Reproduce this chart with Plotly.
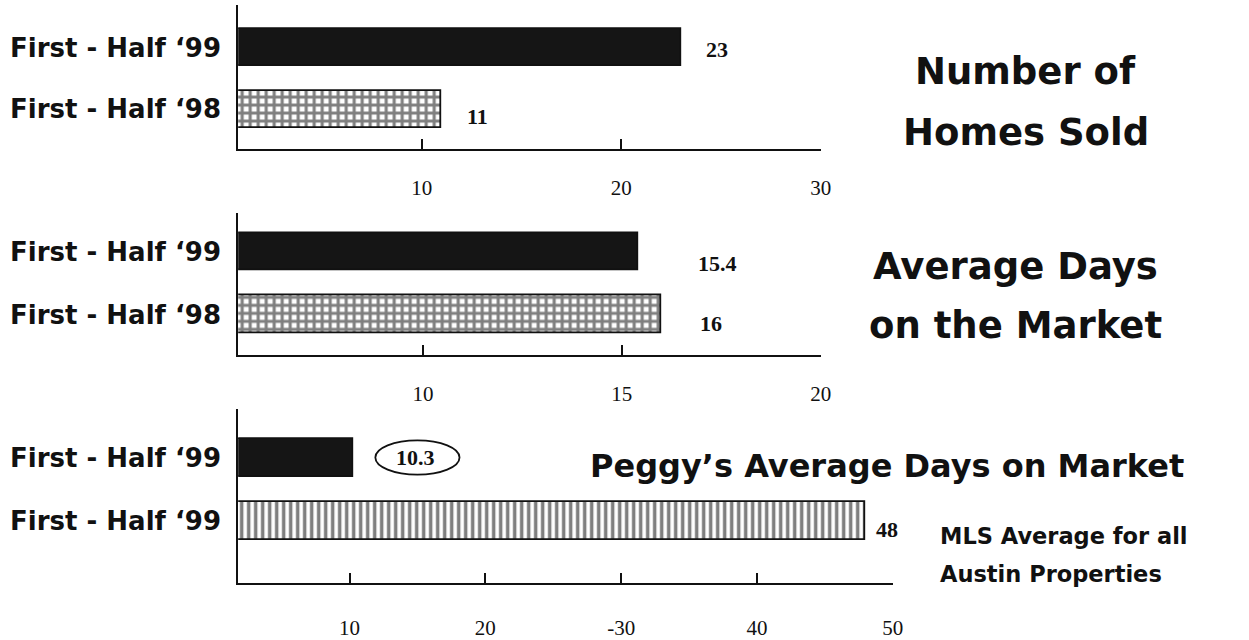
import plotly.graph_objects as go

# ---- data ----
cats_sold = ["First - Half \u201899", "First - Half \u201898"]
homes_sold = [23, 11]
sold_ticks = [10, 20, 30]

cats_days = ["First - Half \u201899", "First - Half \u201898"]
avg_days = [15.4, 16]
days_ticks = [10, 15, 20]

cats_peggy = ["First - Half \u201899", "First - Half \u201899"]
peggy_days = [10.3, 48]
peggy_ticks = [10, 20, 30, 40, 50]
peggy_tick_text = ["10", "20", "-30", "40", "50"]

value_text_sold = ["23", "11"]
value_text_days = ["15.4", "16"]
value_text_peggy = ["10.3", "48"]

# ---- style ----
LABEL_FONT = dict(family="DejaVu Sans", size=26, color="#111")
TICK_FONT = dict(family="Liberation Serif", size=21, color="#111")
VAL_FONT = dict(family="Liberation Serif", size=22, color="#111")
TITLE_FONT = "DejaVu Sans"
W = 1237.0  # effective horizontal pixel span used for paper placement

fig = go.Figure()

def add_panel(idx, cats, vals, patterns):
    ys = list(range(len(cats) - 1, -1, -1))
    for y, v, p in zip(ys, vals, patterns):
        marker = dict(color="#151515" if p is None else "white",
                      line=dict(color="#111", width=1.8))
        if p is not None:
            marker["pattern"] = dict(shape=p[0], size=p[1], solidity=p[2],
                                     fgcolor="#000", bgcolor="white")
        fig.add_trace(go.Bar(
            x=[v], y=[y], orientation="h", width=0.6, marker=marker,
            xaxis="x" + ("" if idx == 1 else str(idx)),
            yaxis="y" + ("" if idx == 1 else str(idx)),
            showlegend=False, hoverinfo="skip"))
    return ys

ys1 = add_panel(1, cats_sold, homes_sold, [None, ("+", 8, 0.62)])
ys2 = add_panel(2, cats_days, avg_days, [None, ("+", 8, 0.62)])
ys3 = add_panel(3, cats_peggy, peggy_days, [None, ("|", 7, 0.5)])

xcommon = dict(showline=True, linecolor="#111", linewidth=2, ticks="inside",
               ticklen=10, tickwidth=2, tickcolor="#111", showgrid=False,
               zeroline=False, tickfont=TICK_FONT, fixedrange=True)
ycommon = dict(showline=True, linecolor="#111", linewidth=2, ticks="",
               showgrid=False, zeroline=False, tickfont=LABEL_FONT,
               ticklabelstandoff=10, fixedrange=True)

def bold(lst):
    return ["<b>%s</b>" % s for s in lst]

d12 = [238 / W, 820 / W]
d3 = [238 / W, 892 / W]

fig.update_layout(
    width=1249, height=640, margin=dict(l=0, r=0, t=0, b=0),
    paper_bgcolor="white", plot_bgcolor="white", bargap=0,
    xaxis=dict(domain=d12, range=[0.8, 30], tickvals=sold_ticks,
               anchor="y", ticklabelstandoff=19, **xcommon),
    yaxis=dict(domain=[0.7656, 0.992], range=[-0.646, 1.696], tickvals=ys1,
               ticktext=bold(cats_sold), anchor="x", **ycommon),
    xaxis2=dict(domain=d12, range=[5.35, 20], tickvals=days_ticks,
                anchor="y2", ticklabelstandoff=19, **xcommon),
    yaxis2=dict(domain=[0.4406, 0.664], range=[-0.652, 1.62], tickvals=ys2,
                ticktext=bold(cats_days), anchor="x2", **ycommon),
    xaxis3=dict(domain=d3, range=[1.8, 50], tickvals=peggy_ticks,
                ticktext=peggy_tick_text, anchor="y3", ticklabelstandoff=24,
                **xcommon),
    yaxis3=dict(domain=[0.0813, 0.356], range=[-0.984, 1.766], tickvals=ys3,
                ticktext=bold(cats_peggy), anchor="x3", **ycommon),
)

ann = []
def vlabels(xref, yref, ys, vals, texts, shifts):
    for y, v, t, (dx, dy) in zip(ys, vals, texts, shifts):
        ann.append(dict(x=v, y=y, xref=xref, yref=yref, text="<b>%s</b>" % t,
                        showarrow=False, xanchor="left", xshift=dx, yshift=dy,
                        font=VAL_FONT))

vlabels("x", "y", ys1, homes_sold, value_text_sold, [(23, -2), (23, -7)])
vlabels("x2", "y2", ys2, avg_days, value_text_days, [(58, -11), (36, -9)])
vlabels("x3", "y3", ys3, peggy_days, value_text_peggy, [(40, 0), (8, -9)])

# ellipse around Peggy's value
fig.add_shape(type="circle", xref="x3", yref="y3",
              x0=peggy_days[0] + 1.6, x1=peggy_days[0] + 7.8,
              y0=ys3[0] - 0.27, y1=ys3[0] + 0.27,
              line=dict(color="#111", width=1.8))

def title(text, px, y, size, xanchor="center"):
    ann.append(dict(x=px / W, y=y, xref="paper", yref="paper", text="<b>%s</b>" % text,
                    showarrow=False, xanchor=xanchor, yanchor="middle",
                    font=dict(family=TITLE_FONT, size=size, color="#111")))

title("Number of", 1025, 0.8875, 37)
title("Homes Sold", 1025, 0.792, 37)
title("Average Days", 1015, 0.581, 37)
title("on the Market", 1015, 0.4875, 37)
title("Peggy\u2019s Average Days on Market", 886, 0.2656, 32)
title("MLS Average for all", 937, 0.156, 22.5, "left")
title("Austin Properties", 937, 0.0953, 22.5, "left")

fig.update_layout(annotations=ann)
fig.write_html("out.html", config={"displayModeBar": False},
               post_script="document.body.style.margin='0';document.body.style.overflow='hidden';")
